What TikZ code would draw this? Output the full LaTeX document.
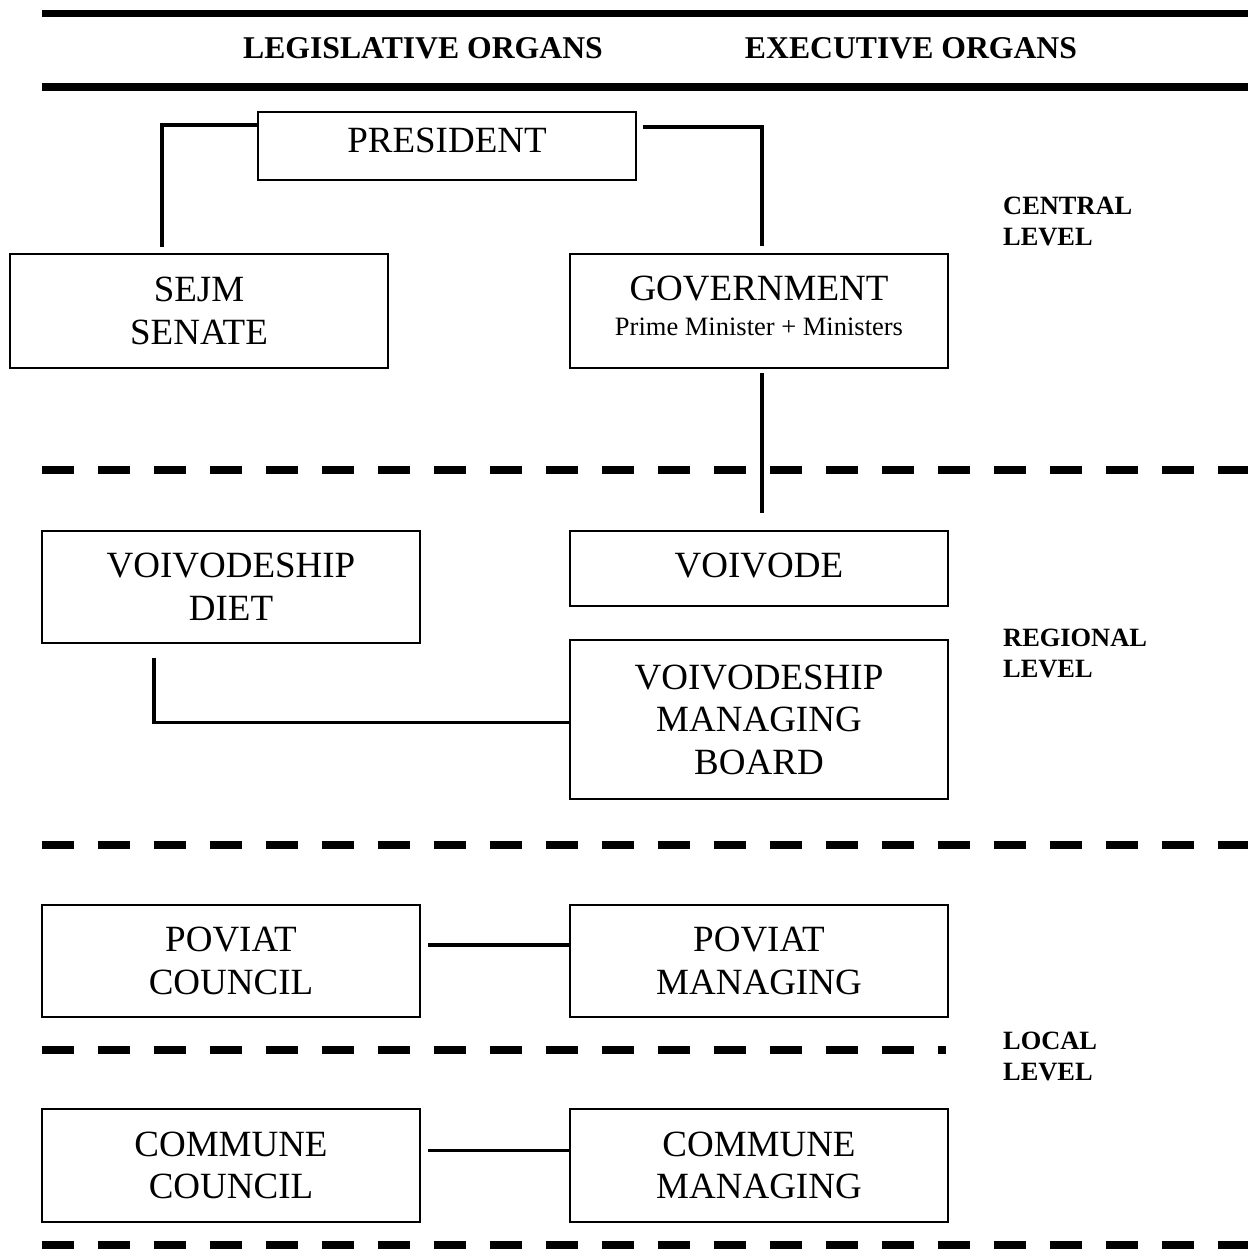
\documentclass[tikz,border=0pt]{standalone}
\usepackage{fontspec}
\setmainfont{Liberation Serif}
\begin{document}
\begin{tikzpicture}[x=1pt,y=-1pt,
  box/.style={draw,line width=2pt,inner sep=0pt,align=center,
    font=\fontsize{37}{42.5}\selectfont},
  conn/.style={line width=3.5pt},
  thick rule/.style={line width=7.5pt},
  level dash/.style={line width=8pt,dash pattern=on 32pt off 24pt},
  head/.style={font=\fontsize{31.7}{36}\selectfont\bfseries,inner sep=0pt},
  lvl/.style={font=\fontsize{26.4}{31}\selectfont\bfseries,inner sep=0pt,anchor=base west}]
\useasboundingbox (0,0) rectangle (1248,1250);

% header rules
\coordinate (r1a) at (42,13.5);  \coordinate (r1b) at (1248,13.5);
\coordinate (r2a) at (42,87);    \coordinate (r2b) at (1248,87);
\draw[thick rule] (r1a) -- (r1b);
\draw[thick rule] (r2a) -- (r2b);
\node[head,anchor=base] (hleg) at (423,58) {LEGISLATIVE ORGANS};
\node[head,anchor=base] (hexe) at (911,58) {EXECUTIVE ORGANS};

% level separators
\coordinate (d1a) at (42,470);  \coordinate (d1b) at (1248,470);
\coordinate (d2a) at (42,845);  \coordinate (d2b) at (1248,845);
\coordinate (d3a) at (42,1050); \coordinate (d3b) at (946,1050);
\coordinate (d4a) at (42,1245); \coordinate (d4b) at (1248,1245);
\draw[level dash] (d1a) -- (d1b);
\draw[level dash] (d2a) -- (d2b);
\draw[level dash] (d3a) -- (d3b);
\draw[level dash] (d4a) -- (d4b);

% level labels
\node[lvl] (c1) at (1003,214) {CENTRAL};
\node[lvl] (c2) at (1003,245) {LEVEL};
\node[lvl] (g1) at (1003,646) {REGIONAL};
\node[lvl] (g2) at (1003,677) {LEVEL};
\node[lvl] (l1) at (1003,1049) {LOCAL};
\node[lvl] (l2) at (1003,1080) {LEVEL};

% boxes
\node[box,minimum width=378,minimum height=68,text depth=12pt] (pres) at (447,146) {PRESIDENT};
\node[box,minimum width=378,minimum height=114] (sejm) at (199,311) {SEJM\\SENATE};
\node[box,minimum width=378,minimum height=114,text depth=11pt] (gov) at (759,311)
  {GOVERNMENT\\[-8pt]{\fontsize{26.5}{30}\selectfont Prime Minister + Ministers}};
\node[box,minimum width=378,minimum height=112] (diet) at (231,587) {VOIVODESHIP\\DIET};
\node[box,minimum width=378,minimum height=75,text depth=6pt] (voiv) at (759,568.5) {VOIVODE};
\node[box,minimum width=378,minimum height=159] (mb) at (759,719.5) {VOIVODESHIP\\MANAGING\\BOARD};
\node[box,minimum width=378,minimum height=112] (pc) at (231,961) {POVIAT\\COUNCIL};
\node[box,minimum width=378,minimum height=112] (pm) at (759,961) {POVIAT\\MANAGING};
\node[box,minimum width=378,minimum height=113] (cc) at (231,1165.5) {COMMUNE\\COUNCIL};
\node[box,minimum width=378,minimum height=113] (cm) at (759,1165.5) {COMMUNE\\MANAGING};

% connectors
\coordinate (pl) at (162,247);
\draw[conn] ([yshift=-14pt]pres.north west) -| (pl);
\draw[conn] ([xshift=6pt,yshift=-16pt]pres.north east) -| ([xshift=3pt,yshift=7pt]gov.north);
\draw[conn] ([xshift=3pt,yshift=-4pt]gov.south) -- ([xshift=3pt,yshift=17pt]voiv.north);
\draw[conn] ([xshift=113pt,yshift=-14pt]diet.south west) |- ([yshift=-3pt]mb.west);
\draw[conn] ([xshift=7pt,yshift=16pt]pc.east) -- ([yshift=16pt]pm.west);
\draw[conn] ([xshift=7pt,yshift=15pt]cc.east) -- ([yshift=15pt]cm.west);
\end{tikzpicture}
\end{document}
